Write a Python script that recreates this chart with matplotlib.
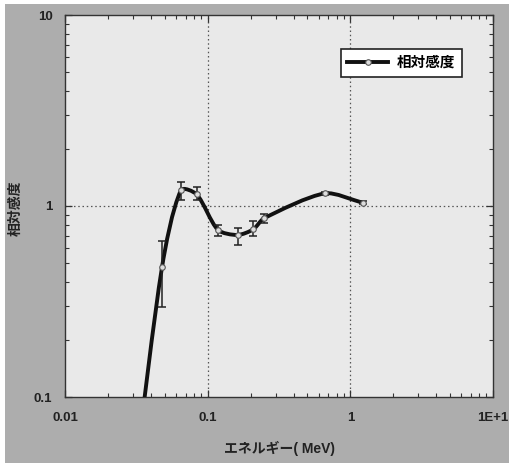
import matplotlib
matplotlib.use('Agg')
import matplotlib.pyplot as plt
import numpy as np
from matplotlib.path import Path
from matplotlib.patches import PathPatch, Rectangle
from matplotlib.lines import Line2D
from matplotlib.ticker import FixedLocator, LogLocator, NullFormatter

plt.rcParams['font.family'] = ['Liberation Sans', 'Noto Sans CJK JP']

# Measured points (energy in MeV, relative sensitivity)
energy = [0.0479, 0.065, 0.0838, 0.118, 0.162, 0.209, 0.248, 0.664, 1.22]
sens = [0.48, 1.21, 1.15, 0.75, 0.705, 0.755, 0.862, 1.165, 1.04]
err_hi = [0.656, 1.34, 1.25, 0.80, 0.77, 0.83, 0.912, 1.19, 1.06]
err_lo = [0.295, 1.075, 1.075, 0.697, 0.625, 0.697, 0.818, 1.14, 1.02]
# curve start, below the visible y range
start_energy = 0.031
start_sens = 0.04

xticks = [0.01, 0.1, 1, 10]
xticklabels = ['0.01', '0.1', '1', '1E+1']
yticks = [0.1, 1, 10]
yticklabels = ['0.1', '1', '10']


def smooth_path(xs, ys, sx=142.67, sy=191.0, k=0.25):
    # Excel-like smoothed line, built in screen-like log space
    pts = np.column_stack([np.log10(xs) * sx, np.log10(ys) * sy])
    n = len(pts)
    verts = [pts[0]]
    codes = [Path.MOVETO]
    for i in range(n - 1):
        p_prev = pts[i - 1] if i > 0 else pts[i]
        p_next = pts[i + 2] if i + 2 < n else pts[i + 1]
        seg = np.hypot(*(pts[i + 1] - pts[i]))
        t1 = pts[i + 1] - p_prev
        t2 = p_next - pts[i]
        c1 = pts[i] + t1 / np.hypot(*t1) * seg * k
        c2 = pts[i + 1] - t2 / np.hypot(*t2) * seg * k
        verts += [c1, c2, pts[i + 1]]
        codes += [Path.CURVE4] * 3
    verts = np.array(verts)
    verts = 10 ** np.column_stack([verts[:, 0] / sx, verts[:, 1] / sy])
    return Path(verts, codes)


fig = plt.figure(figsize=(5.09, 4.63), dpi=100, facecolor='white')
fig.patches.append(Rectangle((5 / 509, 0), 1, 459 / 463, transform=fig.transFigure,
                             facecolor='#adadad', edgecolor='none', zorder=-10))
ax = fig.add_axes([65 / 509, (463 - 397) / 463, 428 / 509, 382 / 463])
ax.set_facecolor('#e9e9e9')
ax.set_xscale('log')
ax.set_yscale('log')
ax.set_xlim(0.01, 10)
ax.set_ylim(0.1, 10)

# grid at inner decades
for gx in [0.1, 1]:
    ax.axvline(gx, color='#555555', lw=0.9, ls=(0, (1.2, 2.2)), zorder=1)
ax.axhline(1, color='#555555', lw=0.9, ls=(0, (1.2, 2.2)), zorder=1)

path = smooth_path([start_energy] + energy, [start_sens] + sens)
ax.add_patch(PathPatch(path, facecolor='none', edgecolor='#111111', lw=2.8, zorder=3,
                       transform=ax.transData))

yerr = [np.array(sens) - np.array(err_lo), np.array(err_hi) - np.array(sens)]
ax.errorbar(energy, sens, yerr=yerr, fmt='none', ecolor='#222222', elinewidth=1.1,
            capsize=3, capthick=1.1, zorder=4)
ax.plot(energy, sens, ls='none', marker='o', ms=4, mfc='#dddddd', mec='#555555',
        mew=0.8, zorder=5)

ax.xaxis.set_major_locator(FixedLocator(xticks))
ax.set_xticklabels(xticklabels)
ax.yaxis.set_major_locator(FixedLocator(yticks))
ax.set_yticklabels(yticklabels)
ax.xaxis.set_minor_locator(LogLocator(base=10, subs=np.arange(2, 10)))
ax.yaxis.set_minor_locator(LogLocator(base=10, subs=np.arange(2, 10)))
ax.xaxis.set_minor_formatter(NullFormatter())
ax.yaxis.set_minor_formatter(NullFormatter())
ax.tick_params(which='both', direction='in', top=True, right=True, color='#333333')
ax.tick_params(which='major', length=5, width=0.9)
ax.tick_params(which='minor', length=3, width=0.8)
ax.tick_params(axis='x', which='major', pad=11, labelsize=9.5)
ax.tick_params(axis='y', which='major', pad=9, labelsize=9.5)
for lab in ax.get_xticklabels() + ax.get_yticklabels():
    lab.set_fontweight('bold')
    lab.set_color('#222222')
for sp in ax.spines.values():
    sp.set_linewidth(1.0)
    sp.set_color('#333333')

ax.set_xlabel('エネルギー( MeV)', fontsize=10, fontweight='bold', color='#222222')
ax.xaxis.set_label_coords(0.5, -0.115)
ax.set_ylabel('相対感度', fontsize=10, fontweight='bold', color='#222222')
ax.yaxis.set_label_coords(-0.1, 0.495)

handle = Line2D([], [], color='#111111', lw=2.8, marker='o', ms=4, mfc='#dddddd',
                mec='#555555', mew=0.8)
leg = ax.legend([handle], ['相対感度'], loc='upper right', bbox_to_anchor=(0.944, 0.929),
                frameon=True, fancybox=False, framealpha=1, edgecolor='#222222',
                handlelength=2.8, handletextpad=0.6, borderpad=0.45,
                prop={'size': 10.5, 'weight': 'bold'})
leg.get_frame().set_linewidth(1.2)
leg.get_frame().set_facecolor('white')

fig.savefig('out.png', dpi=100, facecolor=fig.get_facecolor())
